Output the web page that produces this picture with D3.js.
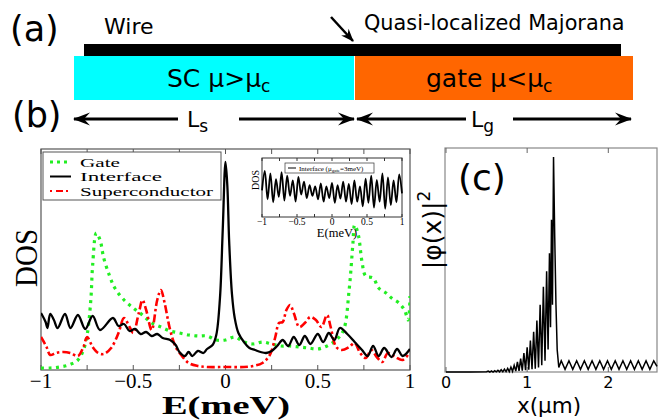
<!DOCTYPE html>
<html>
<head>
<meta charset="utf-8">
<script src="https://cdn.jsdelivr.net/npm/d3@7"></script>
<style>
  body { margin: 0; background: #fff; }
  svg { display: block; }
</style>
</head>
<body>
<div id="fig"></div>
<script>
// ---- data ----
// panel (b): DOS vs E (meV), arbitrary units
const gateE = [-1, -0.95, -0.9, -0.85, -0.8, -0.77, -0.75, -0.73, -0.72, -0.7, -0.68, -0.66, -0.63, -0.6, -0.55, -0.5, -0.45, -0.4, -0.35, -0.3, -0.25, -0.2, -0.15, -0.1, -0.05, 0, 0.05, 0.1, 0.15, 0.2, 0.25, 0.3, 0.35, 0.4, 0.45, 0.5, 0.55, 0.6, 0.64, 0.67, 0.69, 0.7, 0.72, 0.74, 0.76, 0.8, 0.83, 0.87, 0.9, 0.94, 0.97, 0.99, 1];
const gateDos = [0.1, 0.1, 0.15, 0.25, 0.5, 1.0, 1.75, 3.5, 5.25, 6.85, 6.5, 5.6, 4.75, 4.1, 3.5, 3.1, 2.75, 2.35, 2.15, 1.95, 1.85, 1.75, 1.7, 1.7, 1.5, 1.5, 1.65, 1.4, 1.3, 1.4, 1.3, 1.2, 1.2, 1.15, 1.1, 1.05, 1.2, 1.5, 2.0, 4.0, 6.25, 7.25, 6.75, 5.4, 4.7, 4.6, 4.1, 3.85, 3.6, 3.35, 3.0, 2.5, 3.7];

const interfaceE = [-1, -0.975, -0.965, -0.95, -0.93, -0.91, -0.87, -0.84, -0.8, -0.76, -0.72, -0.68, -0.61, -0.58, -0.55, -0.52, -0.49, -0.46, -0.43, -0.4, -0.37, -0.34, -0.3, -0.27, -0.25, -0.22, -0.2, -0.18, -0.15, -0.12, -0.1, -0.07, -0.05, -0.03, -0.015, 0, 0.01, 0.02, 0.035, 0.05, 0.07, 0.1, 0.13, 0.16, 0.19, 0.22, 0.25, 0.28, 0.31, 0.34, 0.37, 0.4, 0.43, 0.46, 0.5, 0.53, 0.56, 0.59, 0.62, 0.66, 0.7, 0.74, 0.77, 0.8, 0.83, 0.86, 0.9, 0.93, 0.96, 1];
const interfaceDos = [2.85, 2.4, 2.1, 2.8, 2.5, 2.1, 2.8, 2.1, 2.75, 2.05, 2.7, 2.0, 2.6, 2.2, 2.3, 1.95, 2.05, 1.8, 1.9, 1.7, 1.8, 1.6, 1.5, 1.25, 0.9, 0.7, 0.9, 0.7, 0.95, 0.85, 1.05, 1.25, 1.75, 3.6, 7.0, 10.4, 9.2, 6.4, 3.8, 2.6, 1.85, 1.4, 1.1, 1.0, 0.9, 0.85, 0.95, 1.2, 1.5, 1.2, 1.65, 1.25, 1.7, 1.3, 1.8, 1.4, 1.85, 1.5, 2.1, 1.8, 1.4, 1.0, 0.7, 1.2, 0.7, 1.1, 0.65, 1.05, 0.7, 1.05];

const scE = [-1, -0.97, -0.95, -0.92, -0.88, -0.84, -0.8, -0.77, -0.75, -0.72, -0.69, -0.66, -0.62, -0.58, -0.55, -0.52, -0.5, -0.47, -0.45, -0.43, -0.4, -0.37, -0.35, -0.33, -0.3, -0.27, -0.24, -0.2, -0.15, -0.1, 0, 0.1, 0.15, 0.2, 0.24, 0.27, 0.29, 0.31, 0.33, 0.35, 0.37, 0.4, 0.43, 0.46, 0.49, 0.52, 0.55, 0.57, 0.6, 0.63, 0.67, 0.7, 0.73, 0.76, 0.79, 0.82, 0.85, 0.88, 0.92, 0.96, 1];
const scDos = [1.65, 1.15, 0.75, 0.85, 0.9, 0.85, 0.7, 1.15, 1.65, 1.15, 0.85, 0.8, 1.1, 1.85, 2.6, 2.15, 1.85, 2.85, 3.5, 3.0, 2.0, 3.5, 4.0, 3.35, 2.0, 1.15, 0.75, 0.35, 0.2, 0.15, 0.15, 0.15, 0.2, 0.35, 0.75, 1.65, 2.35, 2.4, 3.0, 3.25, 2.85, 2.15, 2.35, 2.65, 2.5, 2.15, 2.75, 2.15, 1.15, 1.0, 1.15, 1.35, 0.85, 0.6, 1.0, 0.65, 0.4, 0.85, 0.65, 0.5, 0.9];

// inset: interface DOS for mu_gate = 3 meV
const insetE = [-1, -0.96, -0.92, -0.88, -0.84, -0.8, -0.76, -0.72, -0.68, -0.64, -0.6, -0.56, -0.52, -0.48, -0.44, -0.4, -0.36, -0.32, -0.28, -0.24, -0.2, -0.16, -0.12, -0.08, -0.04, 0, 0.04, 0.08, 0.12, 0.16, 0.2, 0.24, 0.28, 0.32, 0.36, 0.4, 0.44, 0.48, 0.52, 0.56, 0.6, 0.64, 0.68, 0.72, 0.76, 0.8, 0.84, 0.88, 0.92, 0.96, 1];
const insetDos = [0.45, 0.78, 0.3, 0.74, 0.25, 0.64, 0.34, 0.76, 0.28, 0.7, 0.36, 0.62, 0.26, 0.68, 0.38, 0.6, 0.32, 0.54, 0.36, 0.52, 0.3, 0.57, 0.26, 0.52, 0.32, 0.58, 0.24, 0.54, 0.31, 0.6, 0.26, 0.56, 0.22, 0.62, 0.26, 0.52, 0.18, 0.65, 0.24, 0.7, 0.16, 0.63, 0.26, 0.74, 0.14, 0.67, 0.2, 0.62, 0.25, 0.72, 0.4];

// panel (c): |phi(x)|^2 vs x (um)
const waveX = [0, 0.3, 0.5, 0.52, 0.54, 0.56, 0.58, 0.6, 0.62, 0.64, 0.66, 0.68, 0.7, 0.72, 0.74, 0.76, 0.78, 0.8, 0.82, 0.84, 0.86, 0.88, 0.9, 0.92, 0.94, 0.96, 0.98, 1.0, 1.02, 1.04, 1.06, 1.08, 1.1, 1.12, 1.14, 1.16, 1.18, 1.2, 1.22, 1.24, 1.258, 1.275, 1.288, 1.3, 1.312, 1.325, 1.34, 1.355, 1.37, 1.39, 1.42, 1.467, 1.515, 1.562, 1.61, 1.657, 1.705, 1.752, 1.8, 1.847, 1.895, 1.942, 1.99, 2.037, 2.085, 2.132, 2.18, 2.227, 2.275, 2.322, 2.37, 2.417, 2.465, 2.512, 2.56, 2.6];
const waveY = [0, 0, 0.001, 0.004, 0, 0.005, 0, 0.006, 0.001, 0.008, 0.001, 0.01, 0.001, 0.013, 0.002, 0.016, 0.002, 0.022, 0.003, 0.03, 0.004, 0.045, 0.005, 0.06, 0.006, 0.085, 0.008, 0.11, 0.01, 0.14, 0.012, 0.18, 0.015, 0.23, 0.02, 0.3, 0.03, 0.38, 0.05, 0.45, 0.1, 0.53, 0.2, 0.68, 0.3, 0.96, 0.6, 0.3, 0.1, 0.02, 0.05, 0.012, 0.05, 0.012, 0.05, 0.012, 0.05, 0.012, 0.05, 0.012, 0.05, 0.012, 0.05, 0.012, 0.05, 0.012, 0.05, 0.012, 0.05, 0.012, 0.05, 0.012, 0.05, 0.012, 0.05, 0.025];

const eTicks = [-1, -0.5, 0, 0.5, 1];
const eMinor = [-0.75, -0.25, 0.25, 0.75];
const xTicks = [0, 1, 2];
const legendNames = ["Gate", "Interface", "Superconductor"];

const SANS = "DejaVu Sans";
const SERIF = "Liberation Serif";

const svg = d3.select("#fig").append("svg")
  .attr("width", 663).attr("height", 420)
  .style("font-family", SANS);

const defs = svg.append("defs");
defs.append("marker")
  .attr("id", "head")
  .attr("markerUnits", "userSpaceOnUse")
  .attr("viewBox", "-18 -8 20 16")
  .attr("markerWidth", 20).attr("markerHeight", 16)
  .attr("refX", 0).attr("refY", 0)
  .attr("orient", "auto")
  .append("path")
  .attr("d", "M1,0 L-16,-6.5 L-10,0 L-16,6.5 Z")
  .attr("fill", "#000");
defs.append("marker")
  .attr("id", "headSmall")
  .attr("markerUnits", "userSpaceOnUse")
  .attr("viewBox", "-14 -6 16 12")
  .attr("markerWidth", 16).attr("markerHeight", 12)
  .attr("refX", 0).attr("refY", 0)
  .attr("orient", "auto")
  .append("path")
  .attr("d", "M1,0 L-12,-5 L-8,0 L-12,5 Z")
  .attr("fill", "#000");

// ---- panel (a): the device sketch ----
svg.append("text").attr("x", 10).attr("y", 41)
  .attr("font-size", 35).text("(a)");
svg.append("text").attr("x", 104).attr("y", 34)
  .attr("font-size", 22).text("Wire");
svg.append("text").attr("x", 364).attr("y", 30)
  .attr("font-size", 20.8).text("Quasi-localized Majorana");
svg.append("line")
  .attr("x1", 331).attr("y1", 17).attr("x2", 353).attr("y2", 41)
  .attr("stroke", "#000").attr("stroke-width", 2.5)
  .attr("marker-end", "url(#headSmall)");

svg.append("rect").attr("x", 84).attr("y", 44).attr("width", 537).attr("height", 12)
  .attr("fill", "#000");
svg.append("rect").attr("x", 74).attr("y", 56).attr("width", 280).attr("height", 44)
  .attr("fill", "#00ffff");
svg.append("rect").attr("x", 355).attr("y", 56).attr("width", 278).attr("height", 44)
  .attr("fill", "#ff6600");

const sc = svg.append("text").attr("x", 167).attr("y", 87).attr("font-size", 25);
sc.append("tspan").text("SC  μ>μ");
sc.append("tspan").attr("font-size", 17).attr("dy", 5).text("c");
const gt = svg.append("text").attr("x", 426).attr("y", 87).attr("font-size", 25);
gt.append("tspan").text("gate μ<μ");
gt.append("tspan").attr("font-size", 17).attr("dy", 5).text("c");

// ---- panel (b) label row: lengths ----
svg.append("text").attr("x", 12).attr("y", 127)
  .attr("font-size", 35).text("(b)");

const arrows = [[178, 74], [239, 354], [466, 357], [513, 631]];
svg.selectAll(".len-arrow").data(arrows).join("line")
  .attr("class", "len-arrow")
  .attr("x1", d => d[0]).attr("x2", d => d[1])
  .attr("y1", 119).attr("y2", 119)
  .attr("stroke", "#000").attr("stroke-width", 3)
  .attr("marker-end", "url(#head)");

const ls = svg.append("text").attr("x", 187).attr("y", 127).attr("font-size", 22);
ls.append("tspan").text("L");
ls.append("tspan").attr("font-size", 17).attr("dy", 5).text("s");
const lg = svg.append("text").attr("x", 471).attr("y", 127).attr("font-size", 22);
lg.append("tspan").text("L");
lg.append("tspan").attr("font-size", 17).attr("dy", 5).text("g");

// ---- panel (b): DOS ----
const bx = d3.scaleLinear().domain([-1, 1]).range([41, 410]);
const by = d3.scaleLinear().domain([0, 11.05]).range([370, 149]);

defs.append("clipPath").attr("id", "clipB")
  .append("rect").attr("x", 41).attr("y", 149).attr("width", 369).attr("height", 221);

const gB = svg.append("g");
gB.append("rect").attr("x", 41).attr("y", 149).attr("width", 369).attr("height", 221)
  .attr("fill", "none").attr("stroke", "#555").attr("stroke-width", 1.2);

const allETicks = eTicks.concat(eMinor);
gB.selectAll(".tb").data(allETicks).join("line")
  .attr("x1", d => bx(d)).attr("x2", d => bx(d))
  .attr("y1", 370).attr("y2", 365).attr("stroke", "#555");
gB.selectAll(".tt").data(allETicks).join("line")
  .attr("x1", d => bx(d)).attr("x2", d => bx(d))
  .attr("y1", 149).attr("y2", 154).attr("stroke", "#555");

gB.selectAll(".tl").data(eTicks).join("text")
  .attr("x", d => bx(d)).attr("y", 388)
  .attr("text-anchor", "middle")
  .attr("font-family", SERIF).attr("font-size", 21)
  .text(d => d3.format("")(d).replace("-", "−"));

gB.append("text").attr("x", 226).attr("y", 414)
  .attr("text-anchor", "middle")
  .attr("font-family", SERIF).attr("font-size", 26).attr("font-weight", "bold")
  .attr("textLength", 128).attr("lengthAdjust", "spacingAndGlyphs")
  .text("E(meV)");
gB.append("text")
  .attr("transform", "translate(37,258) rotate(-90)")
  .attr("text-anchor", "middle")
  .attr("font-family", SERIF).attr("font-size", 32)
  .attr("textLength", 58).attr("lengthAdjust", "spacingAndGlyphs")
  .text("DOS");

const lineB = d3.line()
  .x(d => bx(d[0])).y(d => by(d[1]))
  .curve(d3.curveCatmullRom);

const curvesB = gB.append("g").attr("clip-path", "url(#clipB)");
curvesB.append("path")
  .datum(gateE.map((e, i) => [e, gateDos[i]]))
  .attr("d", lineB).attr("fill", "none")
  .attr("stroke", "#22ee22").attr("stroke-width", 3.2)
  .attr("stroke-dasharray", "3,4.5");
curvesB.append("path")
  .datum(scE.map((e, i) => [e, scDos[i]]))
  .attr("d", lineB).attr("fill", "none")
  .attr("stroke", "#ff0000").attr("stroke-width", 2.6)
  .attr("stroke-dasharray", "8,3,2.5,3");
curvesB.append("path")
  .datum(interfaceE.map((e, i) => [e, interfaceDos[i]]))
  .attr("d", lineB).attr("fill", "none")
  .attr("stroke", "#000").attr("stroke-width", 2.3);

// legend
const legStyle = {
  "Gate": { color: "#22ee22", dash: "3,4", w: 3.2, len: 40 },
  "Interface": { color: "#000", dash: null, w: 2, len: 82 },
  "Superconductor": { color: "#ff0000", dash: "2,4,7,3", w: 2.2, len: 133 }
};
const leg = gB.append("g");
leg.append("rect").attr("x", 43).attr("y", 152).attr("width", 178).attr("height", 48)
  .attr("fill", "#fff").attr("stroke", "#555").attr("stroke-width", 1);
const legRow = leg.selectAll(".lrow").data(legendNames).join("g")
  .attr("transform", (d, i) => `translate(0,${162 + i * 14.5})`);
legRow.append("line")
  .attr("x1", 50).attr("x2", 71)
  .attr("stroke", d => legStyle[d].color).attr("stroke-width", d => legStyle[d].w)
  .attr("stroke-dasharray", d => legStyle[d].dash);
legRow.append("text")
  .attr("x", 80).attr("y", 4.5)
  .attr("font-family", SERIF).attr("font-size", 13.5)
  .attr("textLength", d => legStyle[d].len)
  .attr("lengthAdjust", "spacingAndGlyphs")
  .text(d => d);

// inset
const ix = d3.scaleLinear().domain([-1, 1]).range([262, 402]);
const iy = d3.scaleLinear().domain([0, 1]).range([217, 158]);
const gI = svg.append("g");
gI.append("rect").attr("x", 262).attr("y", 158).attr("width", 140).attr("height", 59)
  .attr("fill", "#fff").attr("stroke", "#333").attr("stroke-width", 1);
gI.selectAll(".it").data(allETicks).join("line")
  .attr("x1", d => ix(d)).attr("x2", d => ix(d))
  .attr("y1", 217).attr("y2", 214).attr("stroke", "#333");
gI.selectAll(".itt").data(allETicks).join("line")
  .attr("x1", d => ix(d)).attr("x2", d => ix(d))
  .attr("y1", 158).attr("y2", 161).attr("stroke", "#333");
gI.selectAll(".il").data(eTicks).join("text")
  .attr("x", d => ix(d)).attr("y", 225)
  .attr("text-anchor", "middle")
  .attr("font-family", SERIF).attr("font-size", 9.5)
  .text(d => d3.format("")(d).replace("-", "−"));
gI.append("text").attr("x", 337).attr("y", 237)
  .attr("text-anchor", "middle")
  .attr("font-family", SERIF).attr("font-size", 12.5)
  .text("E(meV)");
gI.append("text")
  .attr("transform", "translate(259,180) rotate(-90)")
  .attr("text-anchor", "middle")
  .attr("font-family", SERIF).attr("font-size", 10)
  .text("DOS");
gI.append("path")
  .datum(insetE.map((e, i) => [e, insetDos[i]]))
  .attr("d", d3.line().x(d => ix(d[0])).y(d => iy(d[1])).curve(d3.curveCatmullRom))
  .attr("fill", "none").attr("stroke", "#000").attr("stroke-width", 1.8);
gI.append("rect").attr("x", 285).attr("y", 163).attr("width", 89).attr("height", 10)
  .attr("fill", "#fff").attr("stroke", "#333").attr("stroke-width", 0.7);
gI.append("line").attr("x1", 288).attr("x2", 296).attr("y1", 168).attr("y2", 168)
  .attr("stroke", "#000").attr("stroke-width", 1);
const il = gI.append("text").attr("x", 299).attr("y", 170.5)
  .attr("font-family", SERIF).attr("font-size", 7);
il.append("tspan").text("Interface (μ");
il.append("tspan").attr("font-size", 5).attr("dy", 1.5).text("gate");
il.append("tspan").attr("dy", -1.5).text("=3meV)");

// ---- panel (c): wavefunction ----
const cx = d3.scaleLinear().domain([0, 2.6]).range([446, 657]);
const cy = d3.scaleLinear().domain([0, 1]).range([372, 148]);
const gC = svg.append("g");
gC.append("rect").attr("x", 445).attr("y", 148).attr("width", 212).attr("height", 224)
  .attr("fill", "none").attr("stroke", "#888").attr("stroke-width", 1.2);
gC.selectAll(".ct").data(xTicks).join("line")
  .attr("x1", d => cx(d)).attr("x2", d => cx(d))
  .attr("y1", 372).attr("y2", 367).attr("stroke", "#666");
gC.selectAll(".ctt").data(xTicks).join("line")
  .attr("x1", d => cx(d)).attr("x2", d => cx(d))
  .attr("y1", 148).attr("y2", 153).attr("stroke", "#666");
gC.selectAll(".cl").data(xTicks).join("text")
  .attr("x", d => cx(d)).attr("y", 388)
  .attr("text-anchor", "middle").attr("font-size", 16)
  .text(d => d);
gC.append("text").attr("x", 549).attr("y", 413)
  .attr("text-anchor", "middle").attr("font-size", 21.5)
  .text("x(μm)");
const yl = gC.append("text")
  .attr("transform", "translate(441,230) rotate(-90)")
  .attr("text-anchor", "middle").attr("font-size", 25);
yl.append("tspan").text("|φ(x)|");
yl.append("tspan").attr("font-size", 17).attr("dy", -11).text("2");
gC.append("text").attr("x", 458).attr("y", 190)
  .attr("font-size", 36).text("(c)");

gC.append("path")
  .datum(waveX.map((v, i) => [v, waveY[i]]))
  .attr("d", d3.line().x(d => cx(d[0])).y(d => cy(d[1])))
  .attr("fill", "none").attr("stroke", "#000").attr("stroke-width", 1.5);
</script>
</body>
</html>
